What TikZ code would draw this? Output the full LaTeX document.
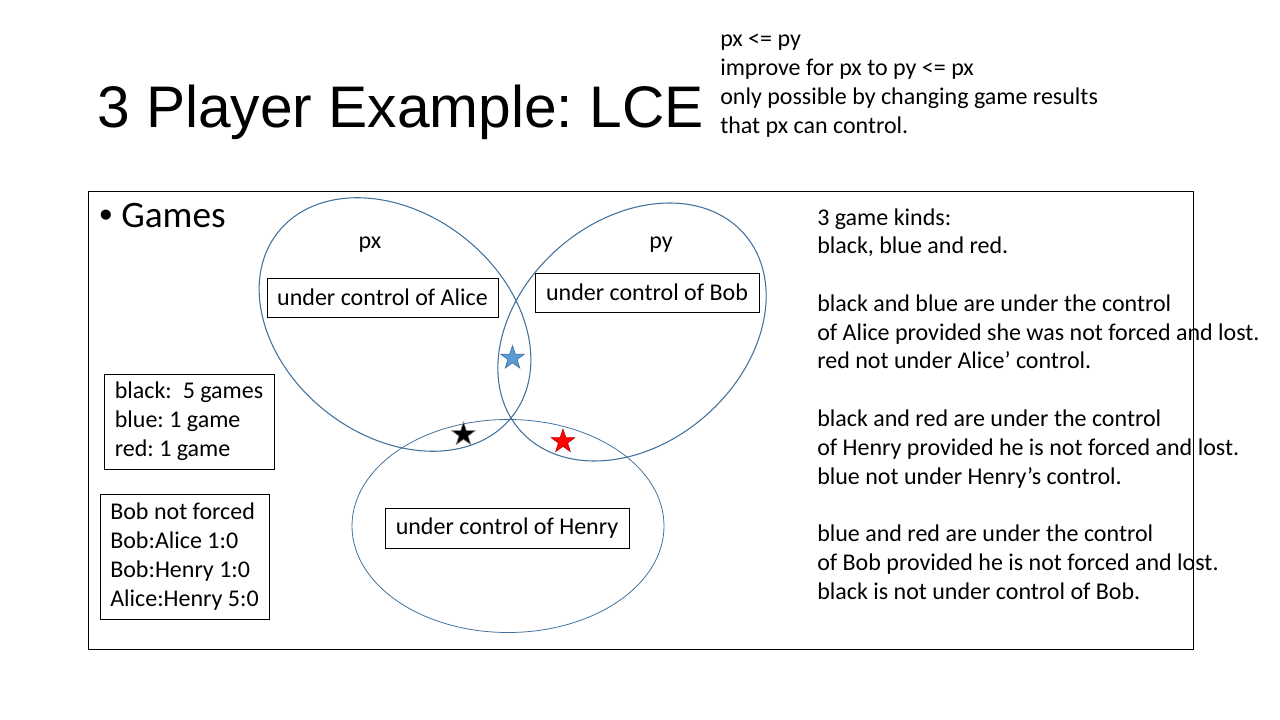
\documentclass[tikz,border=0pt]{standalone}
\usepackage{fontspec}
\setmainfont{Carlito}
\newfontfamily\titlefont{Liberation Sans}
\usetikzlibrary{shapes.geometric}
\frenchspacing
\definecolor{ellcol}{RGB}{65,113,156}
\definecolor{starblue}{RGB}{91,155,213}
\definecolor{starblueline}{RGB}{65,113,156}
\definecolor{starredline}{RGB}{192,0,0}
\tikzset{
  txt/.style={font=\fontsize{18}{21.6}\selectfont, inner sep=0pt, anchor=base west},
  ctrlbox/.style={draw=black, line width=0.75pt, font=\fontsize{18}{21.6}\selectfont, inner sep=0pt, minimum height=29.25pt},
  infobox/.style={draw=black, line width=0.75pt, font=\fontsize{18}{21.6}\selectfont, align=left, inner xsep=6pt, inner ysep=0pt},
  venn/.style={draw=ellcol, line width=0.8pt},
  gstar/.style={star, star points=5, star point ratio=2.55, minimum size=18.5pt, inner sep=0pt, line width=0.5pt}
}
\begin{document}
\begin{tikzpicture}[x=0.75pt, y=-0.75pt]
\useasboundingbox (0,0) rectangle (1280,720);

% title
\node[inner sep=0pt, anchor=base west, font=\titlefont\fontsize{44}{52}\selectfont] (title) at (97,128) {3 Player Example: LCE};

% top-right notes
\node[txt] (n1) at (720,47) {px <= py};
\node[txt] (n2) at (720,76) {improve for px to py <= px};
\node[txt] (n3) at (720,105) {only possible by changing game results};
\node[txt] (n4) at (720,134) {that px can control.};

% frame
\draw[line width=0.75pt, black] (88,192) rectangle (1193,649);

% bullet
\node[inner sep=0pt, anchor=base west, font=\titlefont\fontsize{28}{33}\selectfont] (bul) at (99,228) {\textbullet};
\node[inner sep=0pt, anchor=base west, font=\fontsize{28}{33}\selectfont] (games) at (121,228) {Games};

% ellipses
\draw[venn, rotate around={-38:(395,324.5)}] (395,324.5) ellipse [x radius=149, y radius=111];
\draw[venn, rotate around={41:(632,332)}] (632,332) ellipse [x radius=149, y radius=111.5];
\draw[venn, line width=0.6pt] (508,526) ellipse [x radius=156, y radius=106.5];

% labels
\node[txt, anchor=base] (px) at (370,248) {px};
\node[txt, anchor=base] (py) at (661,248) {py};

% control boxes
\node[ctrlbox, minimum width=173.25pt] (alice) at (382.5,297.5) {under control of Alice};
\node[ctrlbox, minimum width=168pt] (bob) at (647,292.5) {under control of Bob};
\node[ctrlbox, minimum width=183pt, minimum height=30pt] (henry) at (507,528) {under control of Henry};

% stars
\node[gstar, fill=starblue, draw=starblueline] (sblue) at (512.5,358) {};
\node[gstar, fill=black, draw=gray] (sblack) at (463.5,434.5) {};
\node[gstar, fill=red, draw=starredline] (sred) at (563,441.5) {};

% info boxes
\node[infobox, minimum width=127.5pt, minimum height=71.25pt] (counts) at (189,421.5)
  {black:\ \ 5 games\\blue: 1 game\\red: 1 game};
\node[infobox, minimum width=126.75pt, minimum height=93.75pt] (results) at (184.5,556.5)
  {Bob not forced\\Bob:Alice 1:0\\Bob:Henry 1:0\\Alice:Henry 5:0};

% right text
\node[txt] (r0) at (817,225) {3 game kinds:};
\node[txt] (r1) at (817,253.8) {black, blue and red.};
\node[txt] (r3) at (817,311.3) {black and blue are under the control};
\node[txt] (r4) at (817,340.1) {of Alice provided she was not forced and lost.};
\node[txt] (r5) at (817,368.9) {red not under Alice’ control.};
\node[txt] (r7) at (817,426.4) {black and red are under the control};
\node[txt] (r8) at (817,455.2) {of Henry provided he is not forced and lost.};
\node[txt] (r9) at (817,484) {blue not under Henry’s control.};
\node[txt] (r11) at (817,541.5) {blue and red are under the control};
\node[txt] (r12) at (817,570.3) {of Bob provided he is not forced and lost.};
\node[txt] (r13) at (817,599) {black is not under control of Bob.};
\end{tikzpicture}
\end{document}
